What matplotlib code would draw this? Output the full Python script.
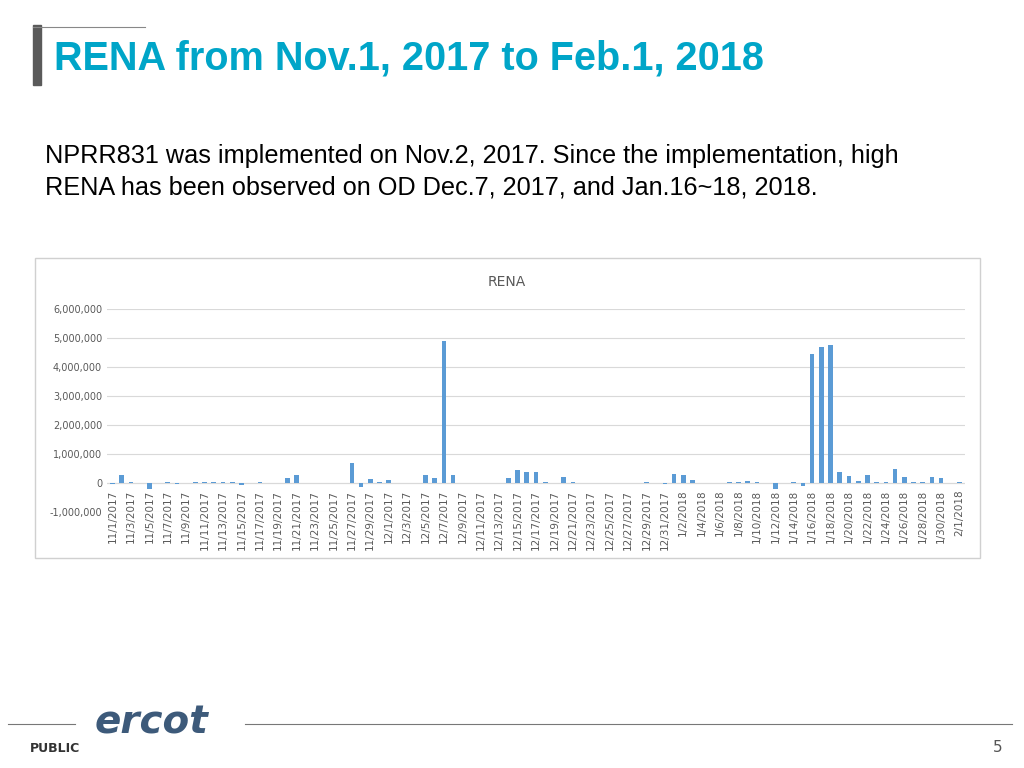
import matplotlib
matplotlib.use("Agg")
import matplotlib.pyplot as plt
import matplotlib.ticker as mt
import numpy as np
import datetime as dt

nov = [-30e3,260e3,20e3,10e3,-210e3,0,30e3,-40e3,10e3,20e3,40e3,20e3,40e3,40e3,-60e3,0,40e3,0,0,180e3,270e3,0,15e3,15e3,0,0,680e3,-140e3,140e3,50e3]
dec = [120e3,0,10e3,10e3,260e3,160e3,4.9e6,270e3,0,10e3,10e3,15e3,0,160e3,440e3,380e3,380e3,20e3,10e3,200e3,20e3,10e3,0,0,10e3,0,15e3,15e3,20e3,15e3,-30e3]
jan = [320e3,270e3,120e3,0,0,10e3,30e3,20e3,80e3,20e3,0,-210e3,0,20e3,-100e3,4.45e6,4.7e6,4.75e6,370e3,230e3,80e3,270e3,40e3,40e3,480e3,200e3,40e3,20e3,190e3,180e3,0]
feb = [40e3]
values = nov + dec + jan + feb
start = dt.date(2017, 11, 1)
dates = [start + dt.timedelta(days=i) for i in range(len(values))]
labels = [f"{d.month}/{d.day}/{d.year}" for d in dates]

fig = plt.figure(figsize=(10.24, 7.68), dpi=100)
W, H = 1024, 768
def fx(x): return x / W
def fy(y): return 1 - y / H

# title bar
fig.patches.append(plt.Rectangle((fx(33), fy(85)), fx(8), 60/H, transform=fig.transFigure, color="#5a5a5a"))
fig.add_artist(plt.Line2D([fx(33), fx(145)], [fy(27), fy(27)], color="#888888", lw=0.8))
fig.text(fx(54), fy(58), "RENA from Nov.1, 2017 to Feb.1, 2018", color="#00a5c8",
         fontsize=28.5, fontweight="bold", family="Liberation Sans", va="center")
fig.text(fx(45), fy(172), "NPRR831 was implemented on Nov.2, 2017. Since the implementation, high\nRENA has been observed on OD Dec.7, 2017, and Jan.16~18, 2018.",
         fontsize=18.2, family="Liberation Sans", va="center", linespacing=1.38)

# chart box
fig.patches.append(plt.Rectangle((fx(35), fy(558)), 945/W, 300/H, transform=fig.transFigure,
                                 fill=False, ec="#d0d0d0", lw=1))
fig.text(fx(507), fy(282), "RENA", fontsize=10, color="#595959", ha="center", va="center")

ax = fig.add_axes([fx(107), fy(512), (965-107)/W, (512-309)/H])
x = np.arange(len(values))
ax.bar(x, values, width=0.5, color="#5b9bd5", zorder=3)
ax.set_ylim(-1e6, 6e6)
ax.set_xlim(-0.6, len(values) - 0.4)
ax.yaxis.set_major_locator(mt.MultipleLocator(1e6))
ax.yaxis.set_major_formatter(mt.FuncFormatter(lambda v, p: f"{int(v):,}"))
ax.grid(axis="y", color="#d9d9d9", lw=0.8, zorder=0)
ax.axhline(0, color="#d9d9d9", lw=0.8, zorder=1)
for s in ax.spines.values():
    s.set_visible(False)
ax.tick_params(axis="y", length=0, labelsize=7, labelcolor="#595959")
ax.tick_params(axis="x", length=0, labelsize=7.5, labelcolor="#595959", pad=-16)
ax.set_xticks(x[::2])
ax.set_xticklabels(labels[::2], rotation=90, va="top")

# footer
fig.add_artist(plt.Line2D([fx(8), fx(75)], [fy(724), fy(724)], color="#777777", lw=0.8))
fig.add_artist(plt.Line2D([fx(245), fx(1012)], [fy(724), fy(724)], color="#777777", lw=0.8))
fig.text(fx(95), fy(722), "ercot", fontsize=28, fontstyle="italic", fontweight="bold",
         color="#3d5a7a", va="center", family="DejaVu Sans")
fig.text(fx(30), fy(748), "PUBLIC", fontsize=9, fontweight="bold", color="#333333", va="center")
fig.text(fx(1003), fy(748), "5", fontsize=11, color="#555555", ha="right", va="center")

fig.savefig("out.png", dpi=100)
